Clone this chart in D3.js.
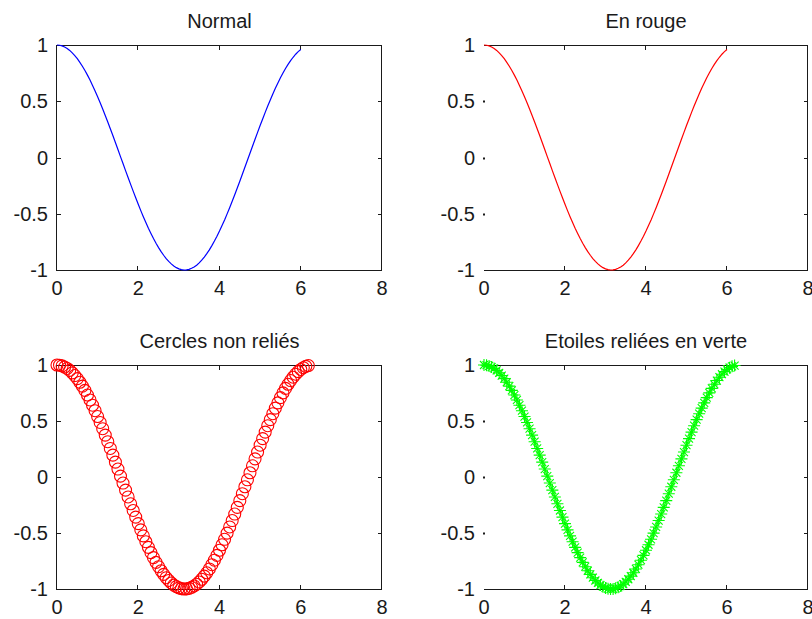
<!DOCTYPE html>
<html><head><meta charset="utf-8">
<script src="https://cdn.jsdelivr.net/npm/d3@7"></script>
<style>
body{margin:0;background:#fff;}
svg{display:block;font-family:"Liberation Sans",Arial,sans-serif;}
</style></head>
<body><svg id="c" width="812" height="619"></svg>
<script>
// x samples (step 0.0625) and cos values
const xs = [0,0.0625,0.125,0.1875,0.25,0.3125,0.375,0.4375,0.5,0.5625,0.625,0.6875,0.75,0.8125,0.875,0.9375,
  1.0,1.0625,1.125,1.1875,1.25,1.3125,1.375,1.4375,1.5,1.5625,1.625,1.6875,1.75,1.8125,1.875,1.9375,
  2.0,2.0625,2.125,2.1875,2.25,2.3125,2.375,2.4375,2.5,2.5625,2.625,2.6875,2.75,2.8125,2.875,2.9375,
  3.0,3.0625,3.125,3.1875,3.25,3.3125,3.375,3.4375,3.5,3.5625,3.625,3.6875,3.75,3.8125,3.875,3.9375,
  4.0,4.0625,4.125,4.1875,4.25,4.3125,4.375,4.4375,4.5,4.5625,4.625,4.6875,4.75,4.8125,4.875,4.9375,
  5.0,5.0625,5.125,5.1875,5.25,5.3125,5.375,5.4375,5.5,5.5625,5.625,5.6875,5.75,5.8125,5.875,5.9375,
  6.0,6.0625,6.125,6.1875];
const ys = [1.000,0.998,0.992,0.982,0.969,0.952,0.930,0.906,0.878,0.846,0.811,0.773,0.732,0.688,0.641,0.592,
  0.540,0.487,0.431,0.374,0.315,0.255,0.195,0.133,0.071,0.008,-0.054,-0.117,-0.178,-0.239,-0.299,-0.358,
  -0.416,-0.472,-0.526,-0.578,-0.628,-0.675,-0.720,-0.762,-0.801,-0.837,-0.869,-0.899,-0.924,-0.946,-0.965,-0.979,
  -0.990,-0.997,-1.000,-0.999,-0.994,-0.985,-0.973,-0.957,-0.937,-0.913,-0.885,-0.855,-0.821,-0.783,-0.743,-0.700,
  -0.654,-0.605,-0.556,-0.501,-0.446,-0.389,-0.331,-0.271,-0.211,-0.149,-0.087,-0.025,0.038,0.100,0.162,0.223,
  0.284,0.343,0.401,0.458,0.512,0.565,0.615,0.662,0.709,0.751,0.791,0.828,0.861,0.891,0.918,0.941,
  0.960,0.976,0.988,0.995];
const titles = ["Normal","En rouge","Cercles non reliés","Etoiles reliées en verte"];
const xTicks = [0,2,4,6,8];
const yTicks = [-1,-0.5,0,0.5,1];
const yTickLabels = ["-1","-0.5","0","0.5","1"];

const svg = d3.select("#c");
const panels = [
  {x0:57, x1:382, y0:45, y1:270, color:"#0000ff", mode:"line", n:97, leftLine:true},
  {x0:484, x1:808, y0:45, y1:270, color:"#ff0000", mode:"line", n:97, leftLine:false},
  {x0:57, x1:382, y0:365, y1:589, color:"#ff0000", mode:"circle", n:100, leftLine:true},
  {x0:484, x1:808, y0:365, y1:589, color:"#00ff00", mode:"star", n:100, leftLine:false}
];
const data = xs.map((x,i)=>({x, y:ys[i]}));
const ink = "#1a1a1a";

panels.forEach((p,k)=>{
  const xS = d3.scaleLinear().domain([0,8]).range([p.x0,p.x1]);
  const yS = d3.scaleLinear().domain([-1,1]).range([p.y1,p.y0]);
  const g = svg.append("g");
  const tl = 4;
  g.append("line").attr("x1",p.x0).attr("x2",p.x1).attr("y1",p.y1+0.5).attr("y2",p.y1+0.5).attr("stroke",ink);
  g.append("line").attr("x1",p.x0).attr("x2",p.x1).attr("y1",p.y0+0.5).attr("y2",p.y0+0.5).attr("stroke",ink);
  g.append("line").attr("x1",p.x1-0.5).attr("x2",p.x1-0.5).attr("y1",p.y0).attr("y2",p.y1+1).attr("stroke",ink);
  if(p.leftLine) g.append("line").attr("x1",p.x0-0.5).attr("x2",p.x0-0.5).attr("y1",p.y0).attr("y2",p.y1+1).attr("stroke",ink);
  xTicks.forEach(t=>{
    const X = Math.round(xS(t))-0.5;
    if(t>0 && t<8){
      g.append("line").attr("x1",X).attr("x2",X).attr("y1",p.y1).attr("y2",p.y1-tl).attr("stroke",ink);
      g.append("line").attr("x1",X).attr("x2",X).attr("y1",p.y0+1).attr("y2",p.y0+1+tl).attr("stroke",ink);
    }
    g.append("text").attr("x",xS(t)).attr("y",p.y1+25).attr("text-anchor","middle")
      .attr("font-size",20).attr("fill",ink).text(String(t));
  });
  yTicks.forEach((t,i)=>{
    const Y = Math.round(yS(t))+0.5;
    if(t>-1 && t<1){
      if(p.leftLine){
        g.append("line").attr("x1",p.x0).attr("x2",p.x0+tl).attr("y1",Y).attr("y2",Y).attr("stroke",ink);
      } else {
        g.append("rect").attr("x",p.x0-1).attr("y",Y-1).attr("width",2).attr("height",2).attr("fill",ink);
      }
      g.append("line").attr("x1",p.x1).attr("x2",p.x1-tl).attr("y1",Y).attr("y2",Y).attr("stroke",ink);
    }
    g.append("text").attr("x",p.x0-9).attr("y",yS(t)+7).attr("text-anchor","end")
      .attr("font-size",20).attr("fill",ink).text(yTickLabels[i]);
  });
  g.append("text").attr("x",(p.x0+p.x1)/2).attr("y",p.y0-17).attr("text-anchor","middle")
    .attr("font-size",20).attr("fill",ink).text(titles[k]);

  const pts = data.slice(0,p.n);
  const line = d3.line().x(d=>xS(d.x)).y(d=>yS(d.y));
  if(p.mode==="line" || p.mode==="star"){
    g.append("path").attr("d",line(pts)).attr("fill","none").attr("stroke",p.color).attr("stroke-width",1.2);
  }
  if(p.mode==="circle"){
    g.selectAll("circle.m").data(pts).join("circle").attr("class","m")
      .attr("cx",d=>xS(d.x)).attr("cy",d=>yS(d.y)).attr("r",6)
      .attr("fill","none").attr("stroke",p.color).attr("stroke-width",1.1);
  }
  if(p.mode==="star"){
    const star = "M-6,0H6M0,-6V6M-4,-4L4,4M-4,4L4,-4";
    g.selectAll("path.m").data(pts).join("path").attr("class","m")
      .attr("transform",d=>`translate(${xS(d.x)},${yS(d.y)})`).attr("d",star)
      .attr("fill","none").attr("stroke",p.color).attr("stroke-width",1.1);
  }
});
</script></body></html>
